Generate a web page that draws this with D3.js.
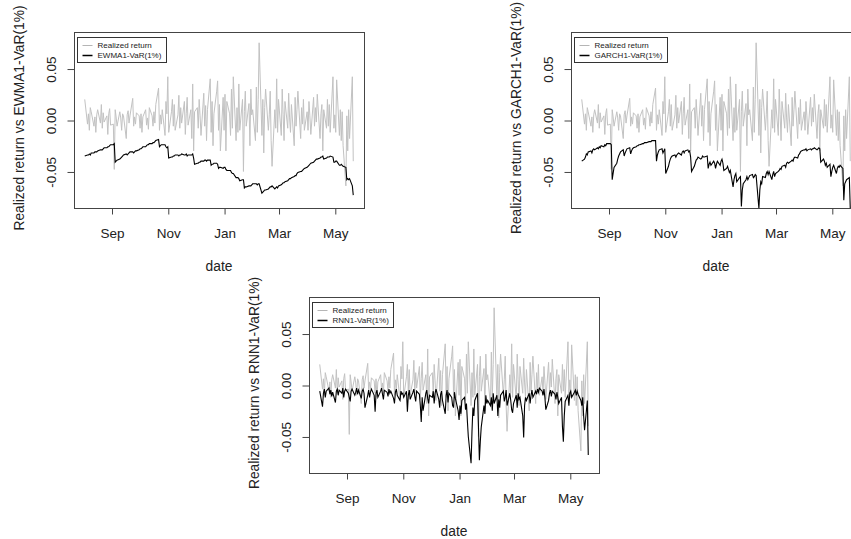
<!DOCTYPE html>
<html>
<head>
<meta charset="utf-8">
<script src="https://cdnjs.cloudflare.com/ajax/libs/d3/7.8.5/d3.min.js"></script>
<style>
  body { margin: 0; background: #fff; }
  svg { display: block; font-family: "Liberation Sans", Arial, sans-serif; }
</style>
</head>
<body>
<div id="chart"></div>
<script>

// trading days run from firstDay to lastDay (weekdays only)
var firstDay = "2018-08-03";
var lastDay = "2019-05-21";

var monthTicks = ["2018-09-01", "2018-11-01", "2019-01-01", "2019-03-01", "2019-05-01"];
var monthLabels = ["Sep", "Nov", "Jan", "Mar", "May"];

var yTicks = [-0.05, 0, 0.05];
var yTickLabels = ["-0.05", "0.00", "0.05"];

var modelNames = ["EWMA1", "GARCH1", "RNN1"];

// realized daily return, one row per month (Aug .. May)
var realizedReturn = [
  0.020, -0.004, 0.006, -0.010, 0.012, 0.008, -0.006, 0.003, -0.012, 0.005, 0.010, -0.003, 0.015, -0.008, 0.007, -0.002, 0.004, -0.014, 0.006, 0.011, -0.005,
  -0.004, -0.048, 0.010, 0.003, -0.006, 0.008, 0.002, -0.010, 0.006, 0.004, -0.018, 0.005, 0.009, -0.003, 0.004, 0.021, -0.006, 0.003, -0.004, 0.007,
  0.004, -0.008, 0.006, -0.012, 0.003, 0.010, -0.005, 0.002, -0.009, 0.012, 0.004, -0.006, 0.008, -0.003, 0.015, 0.031, -0.010, 0.005, -0.004, 0.010, -0.015, 0.018, 0.006,
  0.042, -0.012, 0.008, 0.020, -0.006, 0.015, -0.010, 0.005, 0.024, -0.008, 0.012, -0.003, 0.018, -0.014, 0.006, 0.022, -0.005, 0.010, -0.018, 0.035, -0.030, 0.008,
  0.012, -0.008, 0.020, 0.004, -0.015, 0.026, -0.006, 0.014, -0.020, 0.010, 0.040, -0.012, 0.018, -0.025, 0.006, 0.028, 0.038, -0.010, 0.015, -0.030, 0.022,
  -0.010, 0.025, -0.030, 0.018, 0.006, -0.015, 0.030, -0.008, 0.042, -0.020, 0.012, -0.012, 0.035, -0.010, 0.020, -0.050, 0.008, 0.028, -0.006, 0.016, -0.025, 0.030, 0.005,
  0.010, -0.020, 0.032, -0.012, 0.020, 0.075, -0.015, 0.020, -0.032, 0.012, 0.030, -0.010, 0.005, 0.028, -0.020, -0.045, 0.010, -0.008, 0.040, -0.012,
  0.020, -0.015, 0.030, 0.005, -0.020, 0.018, -0.008, 0.026, 0.002, -0.012, 0.015, -0.025, 0.022, -0.006, 0.010, 0.028, -0.018, 0.012, -0.004, 0.020, -0.010,
  0.008, -0.010, 0.018, 0.004, -0.014, 0.022, -0.006, 0.012, -0.002, 0.025, -0.018, 0.006, 0.015, -0.030, 0.010, -0.008, 0.020, -0.006, 0.015, -0.012, 0.042, -0.008,
  0.005, -0.012, 0.039, -0.015, 0.010, -0.020, 0.008, -0.025, -0.064, 0.004, -0.030, 0.010, -0.018, 0.042, -0.040
];

var ewmaVaR = [
  -0.035, -0.034, -0.034, -0.033, -0.034, -0.032, -0.032, -0.031, -0.031, -0.031, -0.030, -0.029, -0.029, -0.029, -0.028, -0.027, -0.027, -0.026, -0.026, -0.025, -0.024,
  -0.024, -0.023, -0.041, -0.040, -0.039, -0.038, -0.037, -0.036, -0.035, -0.034, -0.033, -0.034, -0.033, -0.032, -0.031, -0.031, -0.032, -0.031, -0.030, -0.030,
  -0.029, -0.028, -0.028, -0.027, -0.026, -0.026, -0.025, -0.024, -0.024, -0.023, -0.023, -0.022, -0.022, -0.021, -0.020, -0.019, -0.026, -0.025, -0.024, -0.024, -0.024, -0.026, -0.027,
  -0.026, -0.037, -0.036, -0.036, -0.035, -0.035, -0.034, -0.034, -0.035, -0.034, -0.034, -0.033, -0.034, -0.034, -0.033, -0.035, -0.034, -0.034, -0.034, -0.033, -0.037, -0.043,
  -0.042, -0.042, -0.041, -0.041, -0.040, -0.040, -0.039, -0.039, -0.040, -0.039, -0.039, -0.044, -0.043, -0.043, -0.042, -0.042, -0.043, -0.047, -0.046, -0.046, -0.047,
  -0.046, -0.046, -0.048, -0.049, -0.049, -0.049, -0.051, -0.052, -0.052, -0.056, -0.056, -0.056, -0.057, -0.059, -0.058, -0.058, -0.066, -0.065, -0.065, -0.064, -0.064, -0.064, -0.063,
  -0.062, -0.062, -0.062, -0.063, -0.062, -0.062, -0.071, -0.070, -0.069, -0.068, -0.068, -0.067, -0.066, -0.065, -0.065, -0.064, -0.067, -0.066, -0.065, -0.066,
  -0.064, -0.063, -0.062, -0.061, -0.061, -0.060, -0.059, -0.058, -0.057, -0.057, -0.056, -0.055, -0.054, -0.054, -0.052, -0.051, -0.050, -0.050, -0.049, -0.048, -0.047,
  -0.046, -0.045, -0.044, -0.043, -0.042, -0.041, -0.040, -0.039, -0.038, -0.038, -0.037, -0.036, -0.036, -0.035, -0.038, -0.037, -0.036, -0.036, -0.036, -0.035, -0.036, -0.041,
  -0.041, -0.040, -0.040, -0.044, -0.044, -0.043, -0.044, -0.045, -0.046, -0.058, -0.057, -0.058, -0.057, -0.064, -0.073
];

var garchVaR = [
  -0.040, -0.038, -0.036, -0.033, -0.034, -0.031, -0.030, -0.032, -0.029, -0.028, -0.029, -0.027, -0.028, -0.026, -0.027, -0.025, -0.026, -0.024, -0.025, -0.023, -0.023,
  -0.023, -0.024, -0.058, -0.052, -0.046, -0.042, -0.038, -0.035, -0.033, -0.031, -0.029, -0.035, -0.032, -0.030, -0.028, -0.027, -0.033, -0.030, -0.028, -0.027,
  -0.026, -0.025, -0.025, -0.024, -0.024, -0.023, -0.023, -0.022, -0.022, -0.022, -0.021, -0.021, -0.021, -0.020, -0.020, -0.020, -0.040, -0.034, -0.031, -0.029, -0.028, -0.032, -0.030,
  -0.028, -0.052, -0.045, -0.041, -0.038, -0.036, -0.035, -0.034, -0.036, -0.034, -0.033, -0.032, -0.034, -0.031, -0.030, -0.032, -0.030, -0.029, -0.031, -0.030, -0.036, -0.050,
  -0.045, -0.042, -0.039, -0.038, -0.036, -0.038, -0.037, -0.035, -0.036, -0.036, -0.035, -0.047, -0.043, -0.041, -0.044, -0.040, -0.042, -0.047, -0.043, -0.040, -0.044,
  -0.040, -0.038, -0.042, -0.049, -0.047, -0.045, -0.048, -0.051, -0.049, -0.065, -0.058, -0.054, -0.052, -0.060, -0.056, -0.055, -0.084, -0.068, -0.062, -0.058, -0.055, -0.058, -0.056,
  -0.054, -0.053, -0.056, -0.055, -0.053, -0.054, -0.086, -0.068, -0.060, -0.062, -0.055, -0.056, -0.052, -0.050, -0.053, -0.050, -0.058, -0.053, -0.050, -0.055,
  -0.052, -0.050, -0.049, -0.047, -0.048, -0.045, -0.044, -0.046, -0.042, -0.041, -0.042, -0.040, -0.039, -0.040, -0.037, -0.036, -0.037, -0.034, -0.033, -0.031, -0.030,
  -0.029, -0.029, -0.028, -0.030, -0.029, -0.028, -0.029, -0.028, -0.028, -0.027, -0.029, -0.028, -0.027, -0.028, -0.041, -0.038, -0.040, -0.044, -0.042, -0.046, -0.043, -0.055,
  -0.050, -0.046, -0.044, -0.052, -0.047, -0.045, -0.046, -0.044, -0.047, -0.078, -0.062, -0.060, -0.058, -0.056, -0.086
];

var rnnVaR = [
  -0.006, -0.021, -0.008, -0.004, -0.012, -0.006, -0.003, -0.009, -0.005, -0.011, -0.007, -0.017, -0.006, -0.004, -0.010, -0.005, -0.008, -0.003, -0.012, -0.006, -0.004,
  -0.008, -0.012, -0.016, -0.006, -0.004, -0.010, -0.007, -0.003, -0.009, -0.005, -0.013, -0.006, -0.004, -0.008, -0.022, -0.010, -0.005, -0.012, -0.007, -0.004,
  -0.010, -0.026, -0.008, -0.005, -0.012, -0.006, -0.003, -0.009, -0.014, -0.005, -0.007, -0.011, -0.004, -0.008, -0.006, -0.013, -0.018, -0.007, -0.004, -0.010, -0.015, -0.006, -0.009,
  -0.008, -0.012, -0.006, -0.026, -0.010, -0.005, -0.014, -0.007, -0.004, -0.011, -0.016, -0.006, -0.009, -0.020, -0.036, -0.012, -0.025, -0.008, -0.005, -0.013, -0.018, -0.010,
  -0.012, -0.006, -0.018, -0.008, -0.004, -0.014, -0.022, -0.009, -0.006, -0.015, -0.028, -0.010, -0.005, -0.017, -0.008, -0.012, -0.020, -0.022, -0.007, -0.013, -0.025,
  -0.034, -0.020, -0.028, -0.015, -0.012, -0.024, -0.018, -0.035, -0.050, -0.076, -0.045, -0.022, -0.030, -0.015, -0.008, -0.040, -0.073, -0.055, -0.041, -0.020, -0.028, -0.010, -0.018,
  -0.015, -0.020, -0.012, -0.025, -0.008, -0.018, -0.010, -0.030, -0.014, -0.022, -0.010, -0.006, -0.016, -0.012, -0.005, -0.020, -0.008, -0.015, -0.024, -0.027,
  -0.018, -0.010, -0.022, -0.008, -0.014, -0.012, -0.030, -0.051, -0.020, -0.012, -0.015, -0.008, -0.018, -0.010, -0.005, -0.012, -0.006, -0.009, -0.004, -0.007, -0.003,
  -0.006, -0.010, -0.004, -0.012, -0.024, -0.015, -0.008, -0.005, -0.011, -0.006, -0.009, -0.014, -0.007, -0.012, -0.018, -0.012, -0.040, -0.055, -0.030, -0.016, -0.010, -0.020,
  -0.008, -0.006, -0.012, -0.007, -0.005, -0.010, -0.006, -0.009, -0.015, -0.020, -0.012, -0.030, -0.044, -0.015, -0.068
];

var svgWidth = 851;
var svgHeight = 539;
var plotWidth = 290;
var plotHeight = 176;

var svg = d3.select("#chart")
  .append("svg")
  .attr("width", svgWidth)
  .attr("height", svgHeight);

var parseDate = d3.timeParse("%Y-%m-%d");

// weekdays between the first and last day
var tradingDays = d3.timeDay.range(parseDate(firstDay), d3.timeDay.offset(parseDate(lastDay), 1))
  .filter(d => d.getDay() !== 0 && d.getDay() !== 6);

// R style axis: data range padded by 4% on each side
var t0 = tradingDays[0].getTime();
var t1 = tradingDays[tradingDays.length - 1].getTime();
var pad = (t1 - t0) * 0.04;

var xScale = d3.scaleTime()
  .domain([new Date(t0 - pad), new Date(t1 + pad)])
  .range([0, plotWidth]);

var yScale = d3.scaleLinear()
  .domain([-0.0855, 0.0855])
  .range([plotHeight, 0]);

var line = d3.line()
  .x((d, i) => xScale(tradingDays[i]))
  .y(d => yScale(d));

function drawPanel(left, top, modelName, varSeries, id) {

  var g = svg.append("g")
    .attr("transform", `translate(${left}, ${top})`);

  g.append("clipPath")
    .attr("id", "clip" + id)
    .append("rect")
    .attr("width", plotWidth)
    .attr("height", plotHeight);

  var lines = g.append("g").attr("clip-path", `url(#clip${id})`);

  lines.append("path")
    .datum(realizedReturn)
    .attr("d", line)
    .attr("fill", "none")
    .attr("stroke", "#c2c2c2")
    .attr("stroke-width", 1);

  lines.append("path")
    .datum(varSeries)
    .attr("d", line)
    .attr("fill", "none")
    .attr("stroke", "#000")
    .attr("stroke-width", 1.1);

  // box round the plot region
  g.append("rect")
    .attr("x", 0.5)
    .attr("y", 0.5)
    .attr("width", plotWidth)
    .attr("height", plotHeight)
    .attr("fill", "none")
    .attr("stroke", "#444")
    .attr("stroke-width", 1);

  // x axis
  var xAxis = d3.axisBottom(xScale)
    .tickValues(monthTicks.map(parseDate))
    .tickFormat((d, i) => monthLabels[i])
    .tickSize(6)
    .tickPadding(14);

  var xg = g.append("g")
    .attr("transform", `translate(0.5, ${plotHeight + 0.5})`)
    .call(xAxis);
  xg.select(".domain").remove();
  xg.selectAll("line").attr("stroke", "#444");
  xg.selectAll("text")
    .attr("font-size", "13.5px")
    .attr("fill", "#222")
    .attr("font-family", "Liberation Sans, Arial, sans-serif");

  // y axis, labels parallel to the axis
  var yAxis = d3.axisLeft(yScale)
    .tickValues(yTicks)
    .tickFormat((d, i) => yTickLabels[i])
    .tickSize(7);

  var yg = g.append("g")
    .attr("transform", "translate(0.5, 0.5)")
    .call(yAxis);
  yg.select(".domain").remove();
  yg.selectAll("line").attr("stroke", "#444");
  yg.selectAll("text")
    .attr("font-size", "13.5px")
    .attr("fill", "#222")
    .attr("font-family", "Liberation Sans, Arial, sans-serif")
    .attr("x", null)
    .attr("dy", null)
    .attr("text-anchor", "middle")
    .attr("transform", "translate(-19, 0) rotate(-90)");

  // axis titles
  g.append("text")
    .attr("x", plotWidth / 2)
    .attr("y", plotHeight + 63)
    .attr("text-anchor", "middle")
    .attr("font-size", "13.8px")
    .attr("fill", "#222")
    .text("date");

  g.append("text")
    .attr("transform", `translate(-50, ${plotHeight / 2 - 2}) rotate(-90)`)
    .attr("text-anchor", "middle")
    .attr("font-size", "13.8px")
    .attr("fill", "#222")
    .text("Realized return vs " + modelName + "-VaR(1%)");

  // legend
  var legend = g.append("g")
    .attr("transform", "translate(3.5, 5.5)");

  var entries = [
    { label: "Realized return", color: "#b5b5b5", width: 1 },
    { label: modelName + "-VaR(1%)", color: "#000", width: 1.5 }
  ];

  var textWidth = 0;
  entries.forEach(function(e, i) {
    legend.append("line")
      .attr("x1", 5)
      .attr("x2", 15)
      .attr("y1", 8 + i * 10)
      .attr("y2", 8 + i * 10)
      .attr("stroke", e.color)
      .attr("stroke-width", e.width);
    var t = legend.append("text")
      .attr("x", 20)
      .attr("y", 10.8 + i * 10)
      .attr("font-size", "8px")
      .attr("fill", "#222")
      .text(e.label);
    textWidth = Math.max(textWidth, t.node().getComputedTextLength());
  });

  legend.insert("rect", ":first-child")
    .attr("width", Math.round(20 + textWidth + 5))
    .attr("height", 25)
    .attr("fill", "#fff")
    .attr("stroke", "#333")
    .attr("stroke-width", 1);
}

drawPanel(74, 32, modelNames[0], ewmaVaR, 1);
drawPanel(571, 32, modelNames[1], garchVaR, 2);
drawPanel(309, 297, modelNames[2], rnnVaR, 3);

</script>
</body>
</html>
